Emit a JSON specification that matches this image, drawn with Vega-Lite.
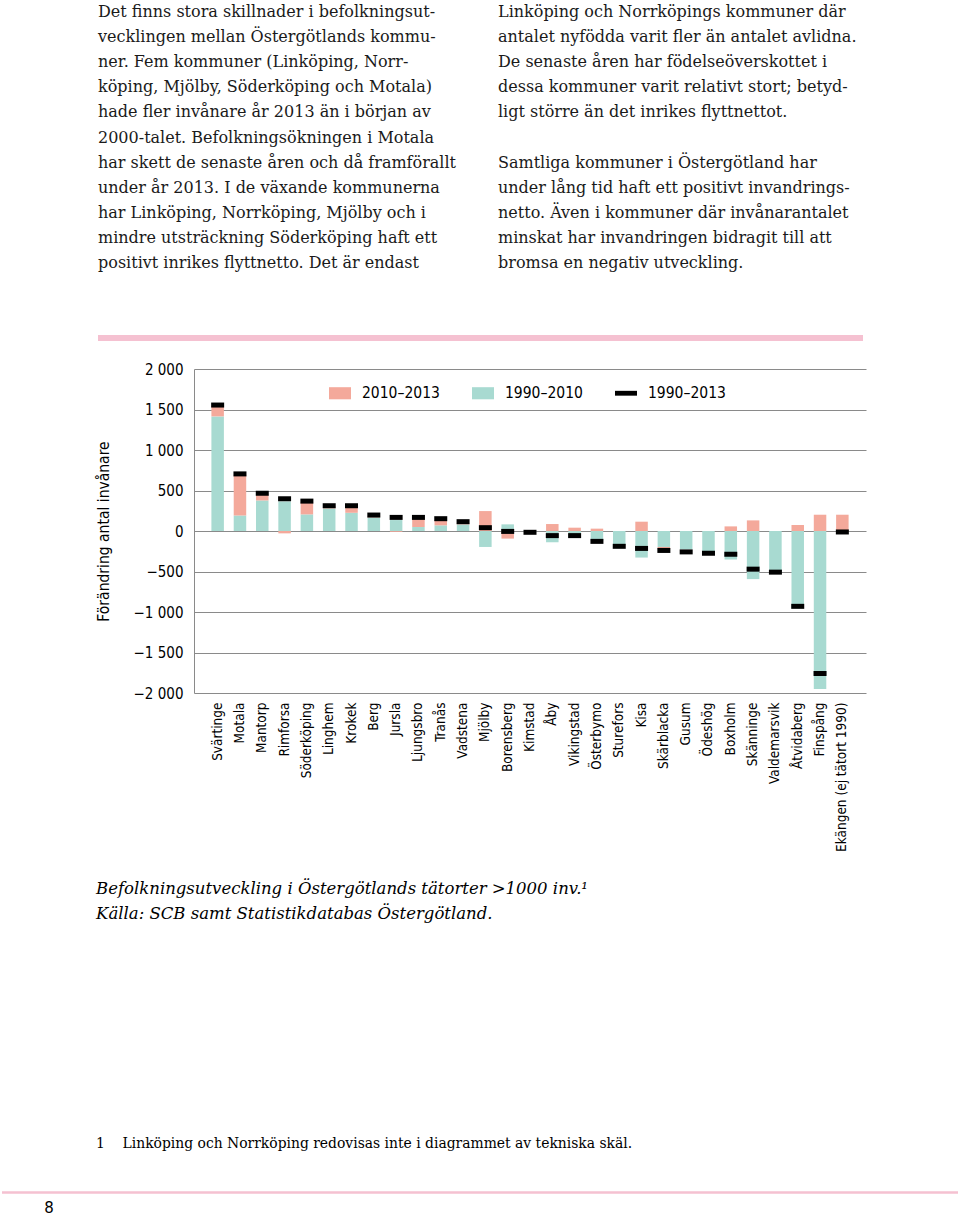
{
  "$schema": "https://vega.github.io/schema/vega-lite/v6.json",
  "padding": 0,
  "background": "white",
  "spacing": 21,
  "config": {"view": {"stroke": null}, "font": "DejaVu Sans Condensed"},
  "datasets": {
    "brodtext": [
      {"spalt": "vänster", "rad": 0, "text": "Det finns stora skillnader i befolkningsut-"},
      {"spalt": "vänster", "rad": 1, "text": "vecklingen mellan Östergötlands kommu-"},
      {"spalt": "vänster", "rad": 2, "text": "ner. Fem kommuner (Linköping, Norr-"},
      {"spalt": "vänster", "rad": 3, "text": "köping, Mjölby, Söderköping och Motala)"},
      {"spalt": "vänster", "rad": 4, "text": "hade fler invånare år 2013 än i början av"},
      {"spalt": "vänster", "rad": 5, "text": "2000-talet. Befolkningsökningen i Motala"},
      {"spalt": "vänster", "rad": 6, "text": "har skett de senaste åren och då framförallt"},
      {"spalt": "vänster", "rad": 7, "text": "under år 2013. I de växande kommunerna"},
      {"spalt": "vänster", "rad": 8, "text": "har Linköping, Norrköping, Mjölby och i"},
      {"spalt": "vänster", "rad": 9, "text": "mindre utsträckning Söderköping haft ett"},
      {"spalt": "vänster", "rad": 10, "text": "positivt inrikes flyttnetto. Det är endast"},
      {"spalt": "höger", "rad": 0, "text": "Linköping och Norrköpings kommuner där"},
      {"spalt": "höger", "rad": 1, "text": "antalet nyfödda varit fler än antalet avlidna."},
      {"spalt": "höger", "rad": 2, "text": "De senaste åren har födelseöverskottet i"},
      {"spalt": "höger", "rad": 3, "text": "dessa kommuner varit relativt stort; betyd-"},
      {"spalt": "höger", "rad": 4, "text": "ligt större än det inrikes flyttnettot."},
      {"spalt": "höger", "rad": 6, "text": "Samtliga kommuner i Östergötland har"},
      {"spalt": "höger", "rad": 7, "text": "under lång tid haft ett positivt invandrings-"},
      {"spalt": "höger", "rad": 8, "text": "netto. Även i kommuner där invånarantalet"},
      {"spalt": "höger", "rad": 9, "text": "minskat har invandringen bidragit till att"},
      {"spalt": "höger", "rad": 10, "text": "bromsa en negativ utveckling."}
    ],
    "orter": [
      {"ort": "Svärtinge", "p1990_2010": 1415, "p2010_2013": 125, "p1990_2013": 1555},
      {"ort": "Motala", "p1990_2010": 190, "p2010_2013": 505, "p1990_2013": 705},
      {"ort": "Mantorp", "p1990_2010": 377, "p2010_2013": 75, "p1990_2013": 467},
      {"ort": "Rimforsa", "p1990_2010": 365, "p2010_2013": -29, "p1990_2013": 398},
      {"ort": "Söderköping", "p1990_2010": 205, "p2010_2013": 150, "p1990_2013": 369},
      {"ort": "Linghem", "p1990_2010": 279, "p2010_2013": 25, "p1990_2013": 312},
      {"ort": "Krokek", "p1990_2010": 225, "p2010_2013": 70, "p1990_2013": 312},
      {"ort": "Berg", "p1990_2010": 168, "p2010_2013": 15, "p1990_2013": 197},
      {"ort": "Jursla", "p1990_2010": 135, "p2010_2013": -10, "p1990_2013": 168},
      {"ort": "Ljungsbro", "p1990_2010": 49, "p2010_2013": 105, "p1990_2013": 168},
      {"ort": "Tranås", "p1990_2010": 70, "p2010_2013": 65, "p1990_2013": 152},
      {"ort": "Vadstena", "p1990_2010": 82, "p2010_2013": 15, "p1990_2013": 115},
      {"ort": "Mjölby", "p1990_2010": -197, "p2010_2013": 246, "p1990_2013": 41},
      {"ort": "Borensberg", "p1990_2010": 82, "p2010_2013": -94, "p1990_2013": -5},
      {"ort": "Kimstad", "p1990_2010": -12, "p2010_2013": -4, "p1990_2013": -16},
      {"ort": "Åby", "p1990_2010": -139, "p2010_2013": 86, "p1990_2013": -57},
      {"ort": "Vikingstad", "p1990_2010": -75, "p2010_2013": 41, "p1990_2013": -57},
      {"ort": "Österbymo", "p1990_2010": -120, "p2010_2013": 29, "p1990_2013": -128},
      {"ort": "Sturefors", "p1990_2010": -175, "p2010_2013": 0, "p1990_2013": -189},
      {"ort": "Kisa", "p1990_2010": -328, "p2010_2013": 115, "p1990_2013": -215},
      {"ort": "Skärblacka", "p1990_2010": -197, "p2010_2013": -22, "p1990_2013": -240},
      {"ort": "Gusum", "p1990_2010": -225, "p2010_2013": 0, "p1990_2013": -258},
      {"ort": "Ödeshög", "p1990_2010": -246, "p2010_2013": 0, "p1990_2013": -275},
      {"ort": "Boxholm", "p1990_2010": -352, "p2010_2013": 57, "p1990_2013": -287},
      {"ort": "Skänninge", "p1990_2010": -594, "p2010_2013": 131, "p1990_2013": -471},
      {"ort": "Valdemarsvik", "p1990_2010": -504, "p2010_2013": 0, "p1990_2013": -508},
      {"ort": "Åtvidaberg", "p1990_2010": -955, "p2010_2013": 74, "p1990_2013": -930},
      {"ort": "Finspång", "p1990_2010": -1950, "p2010_2013": 201, "p1990_2013": -1759},
      {"ort": "Ekängen (ej tätort 1990)", "p1990_2010": null, "p2010_2013": 201, "p1990_2013": -12}
    ],
    "sidfot": [{"text": "8"}]
  },
  "vconcat": [
    {
      "width": 672,
      "height": 341,
      "layer": [
        {
          "data": {"name": "brodtext"},
          "mark": {"type": "text", "align": "left", "baseline": "alphabetic", "font": "DejaVu Serif", "fontSize": 16, "color": "#1a1a1a"},
          "encoding": {
            "x": {"field": "spalt", "type": "nominal", "scale": {"domain": ["vänster", "höger"], "range": [-96, 304], "padding": 0}, "axis": null},
            "y": {"field": "rad", "type": "quantitative", "scale": {"domain": [0, 10], "range": [17, 268]}, "axis": null},
            "text": {"field": "text"}
          }
        },
        {
          "data": {"values": [{}]},
          "mark": {"type": "rule", "color": "#f5c1d1", "strokeWidth": 6},
          "encoding": {"x": {"value": -96}, "x2": {"value": 669}, "y": {"value": 338}}
        }
      ]
    },
    {
      "width": 672,
      "height": 324,
      "data": {"name": "orter"},
      "title": {
        "text": ["Befolkningsutveckling i Östergötlands tätorter >1000 inv.¹", "Källa: SCB samt Statistikdatabas Östergötland."],
        "orient": "bottom",
        "anchor": "start",
        "frame": "bounds",
        "font": "DejaVu Serif",
        "fontStyle": "italic",
        "fontWeight": "normal",
        "fontSize": 16.5,
        "lineHeight": 24.5,
        "offset": 30,
        "color": "#000000",
        "subtitle": "1\u00a0\u00a0\u00a0\u00a0Linköping och Norrköping redovisas inte i diagrammet av tekniska skäl.",
        "subtitleFont": "DejaVu Serif",
        "subtitleFontSize": 13.9,
        "subtitleFontStyle": "normal",
        "subtitleColor": "#000000",
        "subtitlePadding": 215
      },
      "encoding": {
        "x": {
          "field": "ort",
          "type": "nominal",
          "sort": null,
          "scale": {"paddingInner": 0.44, "paddingOuter": 0.78},
          "axis": {"title": null, "labelAngle": -90, "ticks": false, "domain": false, "labelPadding": 9, "labelFontSize": 13.5, "labelColor": "#000000", "labelFont": "DejaVu Sans Condensed"}
        }
      },
      "layer": [
        {
          "transform": [{"fold": ["p1990_2010", "p2010_2013"], "as": ["period", "value"]}],
          "mark": {"type": "bar", "opacity": 1},
          "encoding": {
            "y": {
              "field": "value",
              "type": "quantitative",
              "stack": "zero",
              "title": "Förändring antal invånare",
              "scale": {"domain": [-2000, 2000], "nice": false},
              "axis": {
                "values": [-2000, -1500, -1000, -500, 0, 500, 1000, 1500, 2000],
                "grid": true,
                "gridColor": "#8a8a8a",
                "gridWidth": 1,
                "domainColor": "#8a8a8a",
                "ticks": false,
                "labelPadding": 11,
                "labelFontSize": 15,
                "labelColor": "#000000",
                "labelFont": "DejaVu Sans Condensed",
                "labelExpr": "replace(format(datum.value, ','), ',', ' ')",
                "titleFont": "DejaVu Sans Condensed",
                "titleFontSize": 15.5,
                "titleFontWeight": "normal",
                "titleColor": "#000000",
                "titlePadding": 22
              }
            },
            "color": {
              "field": "period",
              "type": "nominal",
              "scale": {"domain": ["p2010_2013", "p1990_2010", "p1990_2013"], "range": ["#f4a99b", "#a8dad1", "#000000"]},
              "legend": {
                "orient": "none",
                "legendX": 135,
                "legendY": 382,
                "direction": "horizontal",
                "title": null,
                "padding": 0,
                "labelFont": "DejaVu Sans Condensed",
                "labelFontSize": 15.5,
                "labelColor": "#000000",
                "labelOffset": 11,
                "columnPadding": 32,
                "symbolSize": 484,
                "symbolStrokeWidth": 0,
                "symbolOpacity": 1,
                "labelExpr": "replace(replace(datum.label, 'p', ''), '_', '–')",
                "encode": {"symbols": {"update": {"shape": {"signal": "datum.value === 'p1990_2013' ? 'M-1,-0.22H1V0.22H-1Z' : 'M-1,-0.55H1V0.55H-1Z'"}}}}
              }
            },
            "order": {"field": "period", "sort": "ascending"}
          }
        },
        {
          "mark": {"type": "tick", "thickness": 5, "size": 13, "opacity": 1},
          "encoding": {
            "y": {"field": "p1990_2013", "type": "quantitative", "title": "Förändring antal invånare"},
            "color": {"datum": "p1990_2013", "type": "nominal"}
          }
        }
      ]
    },
    {
      "width": 672,
      "height": 40,
      "data": {"name": "sidfot"},
      "layer": [
        {
          "mark": {"type": "rule", "color": "#f5c1d1", "strokeWidth": 2.5},
          "encoding": {"x": {"value": -192}, "x2": {"value": 764}, "y": {"value": 19.5}}
        },
        {
          "mark": {"type": "text", "align": "center", "baseline": "middle", "font": "DejaVu Sans", "fontSize": 15, "color": "#000000"},
          "encoding": {"x": {"value": -145}, "y": {"value": 35}, "text": {"field": "text"}}
        }
      ]
    }
  ]
}
